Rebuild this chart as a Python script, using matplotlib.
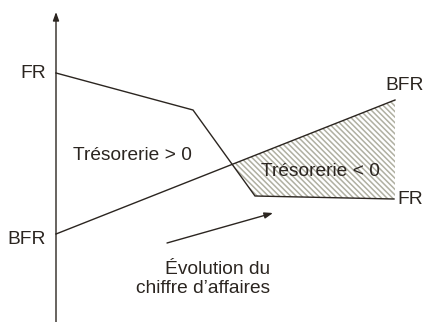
import numpy as np
import matplotlib
matplotlib.use('Agg')
import matplotlib.pyplot as plt

# values (arbitrary units, origin at bottom-left)
fr_x = [56, 193, 255, 394]
fr_y = [249, 212, 126, 123]
bfr_x = [56, 395]
bfr_y = [88, 222]
axis_x = 56
axis_top = 310
trend_start = (167, 79)
trend_end = (273, 109)

INK = '#2b2520'
HATCH = '#b0b0a2'

plt.rcParams['font.family'] = ['Liberation Sans', 'DejaVu Sans']
plt.rcParams['hatch.color'] = HATCH
plt.rcParams['hatch.linewidth'] = 1.1

fig = plt.figure(figsize=(4.24, 3.22), dpi=100)
ax = fig.add_axes([0, 0, 1, 1])
ax.set_xlim(0, 424)
ax.set_ylim(0, 322)
ax.axis('off')

# shaded zone where BFR exceeds FR
xs = np.linspace(bfr_x[0], bfr_x[-1], 400)
fr_i = np.interp(xs, fr_x, fr_y)
bfr_i = np.interp(xs, bfr_x, bfr_y)
ax.fill_between(xs, fr_i, bfr_i, where=bfr_i >= fr_i, interpolate=True,
                facecolor='none', edgecolor=HATCH, hatch='\\' * 6, linewidth=0)

ax.plot(fr_x, fr_y, color=INK, lw=1.0, solid_joinstyle='miter')
ax.plot(bfr_x, bfr_y, color=INK, lw=1.0)

# vertical axis with arrow
ax.annotate('', xy=(axis_x, axis_top), xytext=(axis_x, -2),
            arrowprops=dict(arrowstyle='-|>,head_length=0.5,head_width=0.18',
                            color=INK, lw=1.0, shrinkA=0, shrinkB=0))
ax.annotate('', xy=trend_end, xytext=trend_start,
            arrowprops=dict(arrowstyle='-|>,head_length=0.5,head_width=0.18',
                            color=INK, lw=1.0, shrinkA=0, shrinkB=0))

fs = 13.8
ax.text(46, 249, 'FR', ha='right', va='center', fontsize=fs, color=INK)
ax.text(46, 83, 'BFR', ha='right', va='center', fontsize=fs, color=INK)
ax.text(405, 237, 'BFR', ha='center', va='center', fontsize=fs, color=INK)
ax.text(397, 123, 'FR', ha='left', va='center', fontsize=fs, color=INK)
ax.text(132, 167, 'Trésorerie > 0', ha='center', va='center', fontsize=fs, color=INK)
ax.text(320, 151, 'Trésorerie < 0', ha='center', va='center', fontsize=fs, color=INK)
ax.text(270, 43, 'Évolution du\nchiffre d\u2019affaires', ha='right', va='center',
        fontsize=fs, color=INK, linespacing=1.2)

fig.savefig('out.png', dpi=100)
